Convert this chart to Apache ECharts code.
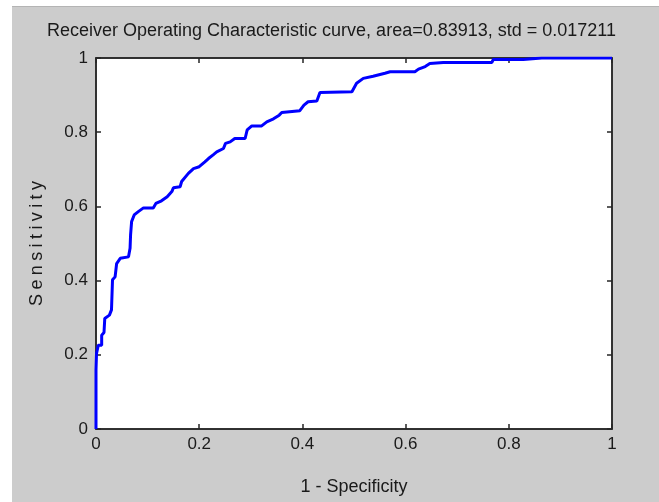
<!DOCTYPE html>
<html>
<head>
<meta charset="utf-8">
<script src="https://cdn.jsdelivr.net/npm/echarts@6/dist/echarts.min.js"></script>
<style>
  html, body { margin: 0; padding: 0; background: #fff; }
  #main {
    position: absolute; left: 12px; top: 6px;
    width: 647px; height: 495px;
    background: #cccccc; border-top: 1px solid #b4b4b4;
  }
</style>
</head>
<body>
<div id="main"></div>
<script>
// ROC curve points
const fpr = [0, 0, 0.001, 0.0045, 0.011, 0.011, 0.0155, 0.017, 0.026, 0.030, 0.032, 0.037, 0.040, 0.047,
  0.063, 0.066, 0.067, 0.069, 0.072, 0.074, 0.082, 0.092, 0.111, 0.116, 0.127, 0.138, 0.147, 0.150,
  0.163, 0.166, 0.179, 0.189, 0.200, 0.211, 0.218, 0.227, 0.234, 0.247, 0.251, 0.260, 0.269, 0.289,
  0.293, 0.302, 0.321, 0.331, 0.344, 0.355, 0.360, 0.395, 0.403, 0.411, 0.428, 0.434, 0.496, 0.505,
  0.518, 0.537, 0.560, 0.570, 0.618, 0.625, 0.638, 0.647, 0.673, 0.767, 0.770, 0.828, 0.864, 1.0];
const tpr = [0, 0.16, 0.204, 0.226, 0.226, 0.253, 0.26, 0.298, 0.307, 0.321, 0.402, 0.41, 0.446, 0.46,
  0.464, 0.487, 0.523, 0.559, 0.563, 0.577, 0.586, 0.596, 0.596, 0.608, 0.615, 0.626, 0.640, 0.650,
  0.653, 0.667, 0.689, 0.702, 0.707, 0.720, 0.729, 0.739, 0.747, 0.756, 0.770, 0.774, 0.783, 0.783,
  0.806, 0.817, 0.817, 0.828, 0.836, 0.846, 0.853, 0.858, 0.873, 0.882, 0.884, 0.907, 0.909, 0.932,
  0.945, 0.951, 0.959, 0.963, 0.963, 0.970, 0.977, 0.985, 0.988, 0.988, 0.996, 0.996, 1.0, 1.0];
const titleText = 'Receiver Operating Characteristic curve, area=0.83913, std = 0.017211';
const xName = '1 - Specificity';
const yName = 'Sensitivity';

var font = "'Liberation Sans', Arial, sans-serif";
var data = [];
for (let i = 0; i < fpr.length; i++) {
    data.push([fpr[i], tpr[i]]);
}

// matlab spreads the y label letters out, so space each char a bit
var yNameSpaced = yName.split('').map(function (ch) { return '{c|' + ch + '}'; }).join('');

var myChart = echarts.init(document.getElementById('main'));

function fmt(v) { return String(+v.toFixed(1)); }

function axisBase(extra) {
    return Object.assign({
        type: 'value',
        min: 0,
        max: 1,
        interval: 0.2,
        splitLine: { show: false },
        axisLine: { show: true, onZero: false, lineStyle: { color: '#262626', width: 1.5 } },
        axisTick: { show: true, inside: true, length: 5, lineStyle: { color: '#262626', width: 1.5 } },
        axisLabel: { show: false }
    }, extra);
}

var option = {
    animation: false,
    backgroundColor: '#cccccc',
    title: {
        text: titleText,
        left: 30,
        top: 10,
        textStyle: { color: '#1a1a1a', fontFamily: font, fontSize: 18, fontWeight: 'normal' }
    },
    grid: {
        left: 84, right: 47, top: 51, bottom: 73,
        show: true, backgroundColor: '#ffffff', borderColor: '#262626', borderWidth: 1.5
    },
    xAxis: [
        axisBase({
            position: 'bottom',
            name: xName,
            nameLocation: 'middle',
            nameGap: 49,
            nameTextStyle: { color: '#1a1a1a', fontFamily: font, fontSize: 18 },
            axisLabel: { color: '#1a1a1a', fontFamily: font, fontSize: 17, margin: 7, formatter: fmt }
        }),
        axisBase({ position: 'top' })
    ],
    yAxis: [
        axisBase({
            position: 'left',
            name: yNameSpaced,
            nameLocation: 'middle',
            nameGap: 50,
            nameTextStyle: {
                rich: { c: { color: '#1a1a1a', fontFamily: font, fontSize: 18, padding: [0, 2.2, 0, 2.2] } }
            },
            axisLabel: { color: '#1a1a1a', fontFamily: font, fontSize: 17, margin: 8, formatter: fmt }
        }),
        axisBase({ position: 'right' })
    ],
    series: [{
        type: 'line',
        data: data,
        showSymbol: false,
        lineStyle: { color: '#0000ff', width: 3 },
        itemStyle: { color: '#0000ff' }
    }]
};

myChart.setOption(option);
window.addEventListener('resize', myChart.resize);
</script>
</body>
</html>
